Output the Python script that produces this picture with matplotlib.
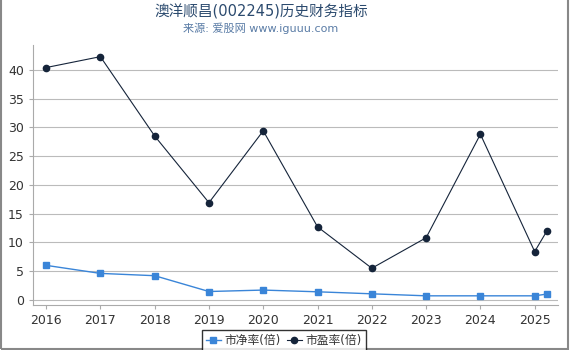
import matplotlib
matplotlib.use("Agg")
import matplotlib.pyplot as plt

plt.rcParams['font.family'] = ['DejaVu Sans', 'Noto Sans CJK SC']

# data
years = [2016, 2017, 2018, 2019, 2020, 2021, 2022, 2023, 2024, 2025, 2025.22]
pb = [6.0, 4.6, 4.2, 1.45, 1.7, 1.4, 1.05, 0.7, 0.7, 0.7, 1.0]
pe = [40.4, 42.3, 28.5, 16.9, 29.4, 12.7, 5.5, 10.8, 28.8, 8.4, 11.9]
xticks = [2016, 2017, 2018, 2019, 2020, 2021, 2022, 2023, 2024, 2025]
yticks = [0, 5, 10, 15, 20, 25, 30, 35, 40]

fig = plt.figure(figsize=(5.7, 3.5), dpi=100)
ax = fig.add_axes([0.058, 0.129, 0.921, 0.742])

ax.plot(years, pb, color='#3a85d8', marker='s', markersize=4.5, lw=1, label='市净率(倍)')
ax.plot(years, pe, color='#15243a', marker='o', markersize=4.5, lw=0.8, label='市盈率(倍)')

ax.set_xlim(2015.76, 2025.43)
ax.set_ylim(-0.87, 44.3)
ax.set_xticks(xticks)
ax.set_xticklabels([str(x) for x in xticks])
ax.set_yticks(yticks)
ax.grid(axis='y', color='#bbbbbb', lw=0.8)
ax.set_axisbelow(True)
for s in ['top', 'right']:
    ax.spines[s].set_visible(False)
for s in ['left', 'bottom']:
    ax.spines[s].set_color('#aaaaaa')
ax.tick_params(colors='#aaaaaa', labelcolor='#333333', labelsize=9, length=3)

fig.text(0.458, 0.965, '澳洋顺昌(002245)历史财务指标', ha='center', va='center',
         fontsize=10.5, color='#2b4a6e')
fig.text(0.458, 0.918, '来源: 爱股网 www.iguuu.com', ha='center', va='center',
         fontsize=8, color='#5a7ca6')

leg = fig.legend(loc='upper center', bbox_to_anchor=(0.498, 0.075), ncol=2,
                 fontsize=8.5, frameon=True, fancybox=False, handlelength=1.3,
                 handletextpad=0.3, columnspacing=0.5, borderpad=0.35)
leg.get_frame().set_edgecolor('black')
leg.get_frame().set_linewidth(1)
for t in leg.get_texts():
    t.set_color('#333333')

# outer border
fig.patches.append(plt.Rectangle((0.001, 0.003), 0.996, 1.2, transform=fig.transFigure,
                                 fill=False, edgecolor='#888888', lw=1.5))

fig.savefig('out.png', dpi=100)
